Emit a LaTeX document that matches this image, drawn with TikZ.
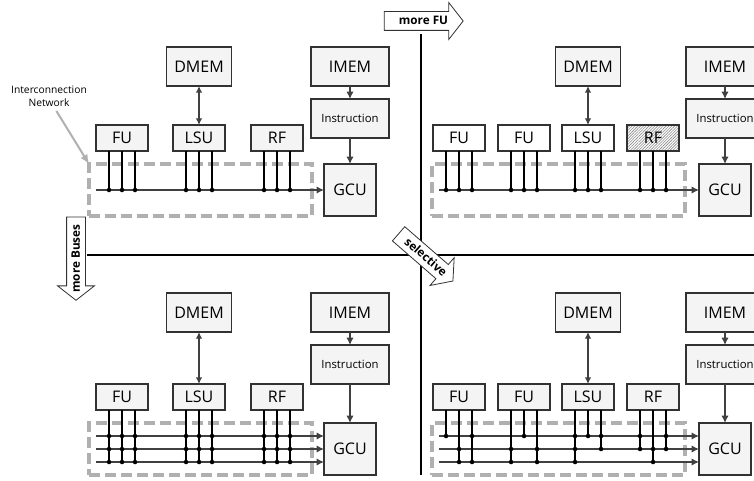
\documentclass[tikz,border=0pt]{standalone}
\usepackage{fontspec}
\setmainfont{Open Sans}
\usetikzlibrary{arrows.meta,positioning,shapes.arrows,patterns.meta}
\definecolor{boxfill}{RGB}{244,244,244}
\definecolor{boxline}{RGB}{50,50,50}
\definecolor{netgrey}{RGB}{176,176,176}
\definecolor{wire}{RGB}{64,64,64}
\newcommand{\tapbus}[3]{\foreach \b in {#3} {
    \draw[stub] ([xshift=#2*9.75pt]#1.south) -- ([xshift=#2*9.75pt]#1.south |- \b);
    \fill ([xshift=#2*9.75pt]#1.south |- \b) circle (1.7pt);}}
\begin{document}
\begin{tikzpicture}[
  x=.75pt, y=-.75pt,
  box/.style={draw=boxline, fill=boxfill, line width=1.1pt, outer sep=0pt, inner sep=0pt, align=center, font=\fontsize{12}{14}\selectfont},
  membox/.style={box, minimum width=48.75pt, minimum height=29.25pt},
  imembox/.style={box, minimum width=58.5pt, minimum height=29.25pt},
  instrbox/.style={imembox, font=\fontsize{8.5}{10}\selectfont},
  unit/.style={box, minimum width=39pt, minimum height=19.5pt},
  newunit/.style={unit, fill=white},
  gcubox/.style={box, minimum width=39pt, minimum height=39pt},
  net/.style={draw=netgrey, line width=2.3pt, dash pattern=on 8.5pt off 3.5pt, minimum height=39pt, inner sep=0pt, outer sep=0pt},
  arrow/.style={-{Latex[length=5.5pt,width=5.5pt]}, draw=wire, fill=wire, line width=1pt},
  both/.style={{Latex[length=5pt,width=5pt]}-{Latex[length=5pt,width=5pt]}, draw=wire, fill=wire, line width=1pt},
  stub/.style={line width=1.2pt},
  divider/.style={line width=1.1pt},
  bigarrow/.style={single arrow, draw=boxline, fill=white, line width=.6pt, inner sep=0pt, outer sep=0pt, text height=9.6pt, text depth=3.9pt, single arrow head extend=6.75pt, single arrow tip angle=104, minimum width=27pt, font=\bfseries\fontsize{8.8}{10}\selectfont},
]
  \useasboundingbox (0,0) rectangle (754,481);

  \coordinate (vtop) at (421,34);
  \coordinate (vbot) at (421,475);
  \coordinate (hleft) at (87,255);
  \coordinate (hright) at (754,255);
  \draw[divider] (vtop) -- (vbot);
  \draw[divider] (hleft) -- (hright);

  \node[membox] (dmemA) at (199,66.5) {DMEM};
  \node[imembox] (imemA) at (350,66.5) {IMEM};
  \node[instrbox, below=9.75pt of imemA] (instrA) {Instruction};
  \node[unit, below=29.25pt of dmemA] (lsuA) {LSU};
  \node[unit, left=18.75pt of lsuA] (fuA) {FU};
  \node[unit, right=19.5pt of lsuA] (rfA) {RF};
  \node[gcubox] (gcuA) at (350,190) {GCU};
  \node[net, minimum width=167.25pt] (netA) at (200.5,190) {};
  \coordinate (busA) at (96,190);
  \draw[arrow] (busA) -- (busA -| gcuA.west);
  \draw[both] (dmemA) -- (lsuA);
  \draw[arrow] (imemA) -- (instrA);
  \draw[arrow] (instrA) -- (gcuA);
  \foreach \u in {fuA,lsuA,rfA} \foreach \o in {-1,0,1} {\tapbus{\u}{\o}{busA}}

  \node[font=\fontsize{7.7}{9.5}\selectfont, align=center, inner sep=1pt] (netlabel) at (49,96.5) {Interconnection\\Network};
  \draw[-{Latex[length=7pt,width=6pt]}, draw=netgrey, line width=1.5pt] ([xshift=5.5pt,yshift=-2pt]netlabel.south) -- (netA.north west);

  \node[membox] (dmemB) at (588,66.5) {DMEM};
  \node[imembox] (imemB) at (725,66.5) {IMEM};
  \node[instrbox, below=9.75pt of imemB] (instrB) {Instruction};
  \node[newunit, below=29.25pt of dmemB] (lsuB) {LSU};
  \node[newunit, left=9pt of lsuB] (fuC) {FU};
  \node[newunit, left=9.75pt of fuC] (fuB) {FU};
  \node[unit, right=9.75pt of lsuB, pattern={Lines[angle=45,distance=1.5pt,line width=.45pt]}, pattern color=black!45, preaction={fill=white}] (rfB) {RF};
  \node[gcubox] (gcuB) at (725,190) {GCU};
  \node[net, minimum width=189.75pt] (netB) at (558.5,190) {};
  \coordinate (busB) at (439,190);
  \draw[arrow] (busB) -- (busB -| gcuB.west);
  \draw[both] (dmemB) -- (lsuB);
  \draw[arrow] (imemB) -- (instrB);
  \draw[arrow] (instrB) -- (gcuB);
  \foreach \u in {fuB,fuC,lsuB,rfB} \foreach \o in {-1,0,1} {\tapbus{\u}{\o}{busB}}

  \node[membox] (dmemC) at (199,312.5) {DMEM};
  \node[imembox] (imemC) at (350,312.5) {IMEM};
  \node[instrbox, below=9.75pt of imemC] (instrC) {Instruction};
  \node[unit, below=39pt of dmemC] (lsuC) {LSU};
  \node[unit, left=18.75pt of lsuC] (fuD) {FU};
  \node[unit, right=19.5pt of lsuC] (rfC) {RF};
  \node[gcubox] (gcuC) at (350,449) {GCU};
  \node[net, minimum width=167.25pt] (netC) at (200.5,449) {};
  \coordinate (busCa) at (96,436);
  \coordinate (busCb) at (96,449);
  \coordinate (busCc) at (96,462);
  \foreach \b in {busCa,busCb,busCc} \draw[arrow] (\b) -- (\b -| gcuC.west);
  \draw[both] (dmemC) -- (lsuC);
  \draw[arrow] (imemC) -- (instrC);
  \draw[arrow] (instrC) -- (gcuC);
  \foreach \u in {fuD,lsuC,rfC} \foreach \o in {-1,0,1} {\tapbus{\u}{\o}{busCa,busCb,busCc}}

  \node[membox] (dmemD) at (588,312.5) {DMEM};
  \node[imembox] (imemD) at (725,312.5) {IMEM};
  \node[instrbox, below=9.75pt of imemD] (instrD) {Instruction};
  \node[unit, below=39pt of dmemD] (lsuD) {LSU};
  \node[unit, left=9pt of lsuD] (fuF) {FU};
  \node[unit, left=9.75pt of fuF] (fuE) {FU};
  \node[unit, right=9.75pt of lsuD] (rfD) {RF};
  \node[gcubox] (gcuD) at (725,449) {GCU};
  \node[net, minimum width=189.75pt] (netD) at (558.5,449) {};
  \coordinate (busDa) at (439,436);
  \coordinate (busDb) at (439,449);
  \coordinate (busDc) at (439,462);
  \foreach \b in {busDa,busDb,busDc} \draw[arrow] (\b) -- (\b -| gcuD.west);
  \draw[both] (dmemD) -- (lsuD);
  \draw[arrow] (imemD) -- (instrD);
  \draw[arrow] (instrD) -- (gcuD);
  \tapbus{fuE}{-1}{busDa}
  \tapbus{fuE}{0}{busDb,busDc}
  \tapbus{fuE}{1}{busDa,busDc}
  \tapbus{fuF}{-1}{busDb,busDc}
  \tapbus{fuF}{0}{busDa}
  \tapbus{fuF}{1}{busDb,busDc}
  \tapbus{lsuD}{-1}{busDa,busDb,busDc}
  \tapbus{lsuD}{0}{busDa}
  \tapbus{lsuD}{1}{busDa,busDb}
  \tapbus{rfD}{-1}{busDa,busDb}
  \tapbus{rfD}{0}{busDb,busDc}
  \tapbus{rfD}{1}{busDa,busDb}

  \node[bigarrow, minimum height=59.25pt] (moreFU) at (420,21) {\kern5.25pt more FU};
  \node[bigarrow, minimum height=57.75pt, shape border rotate=180, rotate=90] (moreBus) at (76,255) {more Buses\kern5.25pt};
  \node[bigarrow, minimum height=54pt, rotate=-41] (selective) at (423,255) {\kern5.25pt selective};
\end{tikzpicture}
\end{document}
